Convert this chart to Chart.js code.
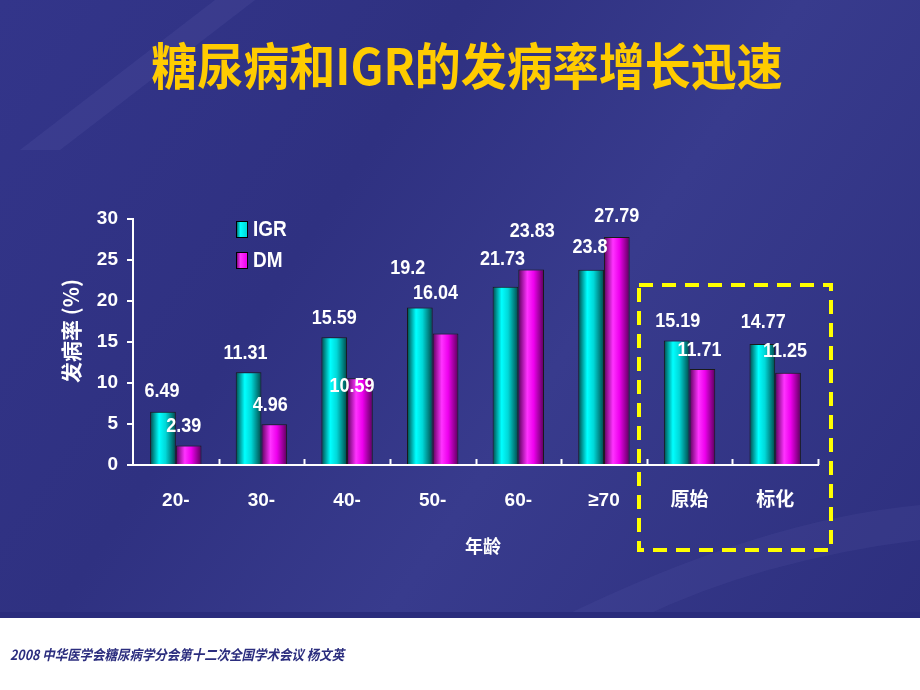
<!DOCTYPE html>
<html>
<head>
<meta charset="utf-8">
<script src="https://cdn.jsdelivr.net/npm/chart.js"></script>
<style>
  html, body { margin: 0; padding: 0; background: #ffffff; }
  #wrap { width: 920px; height: 690px; position: relative; }
</style>
</head>
<body>
<div id="wrap"><canvas id="rateChart" width="920" height="690"></canvas></div>
<script>
// 数据
var categories = ['20-', '30-', '40-', '50-', '60-', '≥70', '原始', '标化'];
var igrValues = [6.49, 11.31, 15.59, 19.2, 21.73, 23.8, 15.19, 14.77];
var dmValues = [2.39, 4.96, 10.59, 16.04, 23.83, 27.79, 11.71, 11.25];
var yTicks = [0, 5, 10, 15, 20, 25, 30];

// 数值标签的偏移（像素），按原图的位置
var igrNudge = [[-1, -20], [-3, -19], [0, -19], [-12, -39], [-3, -27], [-1, -22], [1, -19], [1, -21]];
var dmNudge = [[-5, -19], [-4, -19], [-8, 8], [-10, -40], [1, -38], [0, -21], [-3, -19], [-3, -21]];

var numFont = '"Liberation Sans", Arial, sans-serif';
var cjkFont = '"Noto Sans CJK SC", "Noto Sans", sans-serif';

// 柱子的横向渐变（圆柱效果）
function barGradient(ctx, light, mid, dark) {
    var chart = ctx.chart;
    var xs = chart.scales && chart.scales.x;
    if (!xs || !chart.chartArea || ctx.dataIndex === undefined) return mid;
    var step = (xs.right - xs.left) / categories.length;
    var w = step * 0.3;
    var center = xs.getPixelForValue(ctx.dataIndex);
    var x0 = ctx.datasetIndex === 0 ? center - w : center;
    if (!isFinite(x0) || !isFinite(w) || w <= 0) return mid;
    var g = chart.ctx.createLinearGradient(x0, 0, x0 + w, 0);
    g.addColorStop(0, dark);
    g.addColorStop(0.35, light);
    g.addColorStop(0.6, mid);
    g.addColorStop(1, dark);
    return g;
}

// 背景
var backgroundPlugin = {
    id: 'slideBg',
    beforeDraw: function(chart) {
        var c = chart.ctx;
        c.save();
        var g = c.createLinearGradient(0, 0, 920, 620);
        g.addColorStop(0, '#33358a');
        g.addColorStop(0.35, '#2f3181');
        g.addColorStop(0.6, '#383b8d');
        g.addColorStop(1, '#2d2f7e');
        c.fillStyle = g;
        c.fillRect(0, 0, 920, 618);
        // 左上角的浅色斜带
        c.fillStyle = 'rgba(120, 120, 200, 0.12)';
        c.beginPath();
        c.moveTo(215, 0);
        c.lineTo(255, 0);
        c.lineTo(60, 150);
        c.lineTo(20, 150);
        c.closePath();
        c.fill();
        // 右下角的浅色弧带
        c.fillStyle = 'rgba(120, 120, 200, 0.10)';
        c.beginPath();
        c.moveTo(560, 618);
        c.quadraticCurveTo(760, 520, 920, 505);
        c.lineTo(920, 540);
        c.quadraticCurveTo(760, 560, 640, 618);
        c.closePath();
        c.fill();
        // 白色底栏
        c.fillStyle = '#ffffff';
        c.fillRect(0, 618, 920, 72);
        c.fillStyle = '#2a2c7c';
        c.fillRect(0, 612, 920, 6);
        // 标题
        c.fillStyle = '#ffcc00';
        c.font = 'bold 46px ' + cjkFont;
        c.textAlign = 'center';
        c.textBaseline = 'middle';
        c.save();
        c.translate(467, 66);
        c.scale(1, 1.08);
        c.fillText('糖尿病和IGR的发病率增长迅速', 0, 0);
        c.restore();
        // 页脚
        c.fillStyle = '#2b2d7e';
        c.font = 'italic bold 14px ' + cjkFont;
        c.textAlign = 'left';
        c.save();
        c.translate(10, 655);
        c.scale(0.89, 1);
        c.fillText('2008 中华医学会糖尿病学分会第十二次全国学术会议 杨文英', 0, 0);
        c.restore();
        c.restore();
    }
};

// 标签、图例、框
var overlayPlugin = {
    id: 'overlay',
    afterDatasetsDraw: function(chart) {
        var c = chart.ctx;
        var xs = chart.scales.x;
        var area = chart.chartArea;
        c.save();
        // x 轴内侧刻度
        c.strokeStyle = '#ffffff';
        c.lineWidth = 2;
        var n = categories.length;
        var step = (xs.right - xs.left) / n;
        for (var i = 1; i <= n; i++) {
            var tx = Math.round(xs.left + i * step) + 0.5;
            c.beginPath();
            c.moveTo(tx, area.bottom);
            c.lineTo(tx, area.bottom - 6);
            c.stroke();
        }
        // 数值标签
        c.fillStyle = '#ffffff';
        c.font = 'bold 18px ' + numFont;
        c.textAlign = 'center';
        c.textBaseline = 'middle';
        var nudges = [igrNudge, dmNudge];
        chart.data.datasets.forEach(function(ds, di) {
            var meta = chart.getDatasetMeta(di);
            meta.data.forEach(function(bar, i) {
                var off = nudges[di][i];
                c.save();
                c.translate(bar.x + off[0], bar.y + off[1]);
                c.scale(1, 1.12);
                c.fillText(String(ds.data[i]), 0, 0);
                c.restore();
            });
        });
        // 图例
        var legendItems = [
            { label: 'IGR', light: '#00ffff', mid: '#00d8d8', dark: '#005050', y: 229 },
            { label: 'DM', light: '#ff33ff', mid: '#ee00ee', dark: '#600060', y: 260 }
        ];
        legendItems.forEach(function(it) {
            var lx = 236, ly = it.y - 8;
            var g = c.createLinearGradient(lx, 0, lx + 11, 0);
            g.addColorStop(0, it.dark);
            g.addColorStop(0.4, it.light);
            g.addColorStop(1, it.mid);
            c.fillStyle = g;
            c.fillRect(lx, ly, 11, 16);
            c.strokeStyle = '#000000';
            c.lineWidth = 1;
            c.strokeRect(lx + 0.5, ly + 0.5, 11, 16);
            c.fillStyle = '#ffffff';
            c.font = 'bold 19px ' + numFont;
            c.textAlign = 'left';
            c.save();
            c.translate(lx + 17, it.y + 1);
            c.scale(1, 1.12);
            c.fillText(it.label, 0, 0);
            c.restore();
        });
        // 轴标题
        c.fillStyle = '#ffffff';
        c.font = 'bold 18px ' + cjkFont;
        c.textAlign = 'center';
        c.fillText('年龄', 483, 546);
        c.save();
        c.translate(71, 331);
        c.rotate(-Math.PI / 2);
        c.font = 'bold 21px ' + cjkFont;
        c.fillText('发病率 (%)', 0, 0);
        c.restore();
        // 虚线框
        c.strokeStyle = '#ffff00';
        c.lineWidth = 4;
        c.setLineDash([14, 9]);
        c.strokeRect(639, 285, 192, 265);
        c.restore();
    }
};

var ctx = document.getElementById('rateChart').getContext('2d');
var rateChart = new Chart(ctx, {
    type: 'bar',
    data: {
        labels: categories,
        datasets: [
            {
                label: 'IGR',
                data: igrValues,
                backgroundColor: function(context) {
                    return barGradient(context, '#00ffff', '#00d8d8', '#004848');
                },
                borderColor: '#1a1a1a',
                borderWidth: 1
            },
            {
                label: 'DM',
                data: dmValues,
                backgroundColor: function(context) {
                    return barGradient(context, '#ff33ff', '#ee00ee', '#5a005a');
                },
                borderColor: '#1a1a1a',
                borderWidth: 1
            }
        ]
    },
    options: {
        responsive: false,
        animation: false,
        layout: { padding: { top: 219, left: 0, right: 102, bottom: 0 } },
        datasets: { bar: { barPercentage: 1, categoryPercentage: 0.6 } },
        plugins: {
            legend: { display: false },
            tooltip: { enabled: false }
        },
        scales: {
            x: {
                grid: { display: false, drawTicks: false },
                border: { display: true, color: '#ffffff', width: 2 },
                ticks: {
                    color: '#ffffff',
                    padding: 24,
                    font: { family: numFont + ', ' + cjkFont, size: 19, weight: 'bold' }
                },
                afterFit: function(scale) { scale.height = 225; }
            },
            y: {
                min: 0,
                max: 30,
                afterBuildTicks: function(scale) {
                    scale.ticks = yTicks.map(function(v) { return { value: v }; });
                },
                grid: { drawOnChartArea: false, color: '#ffffff', tickLength: 6, lineWidth: 2 },
                border: { display: true, color: '#ffffff', width: 2 },
                ticks: {
                    color: '#ffffff',
                    padding: 9,
                    font: { family: numFont, size: 19, weight: 'bold' }
                },
                afterFit: function(scale) { scale.width = 133; }
            }
        }
    },
    plugins: [backgroundPlugin, overlayPlugin]
});
</script>
</body>
</html>
